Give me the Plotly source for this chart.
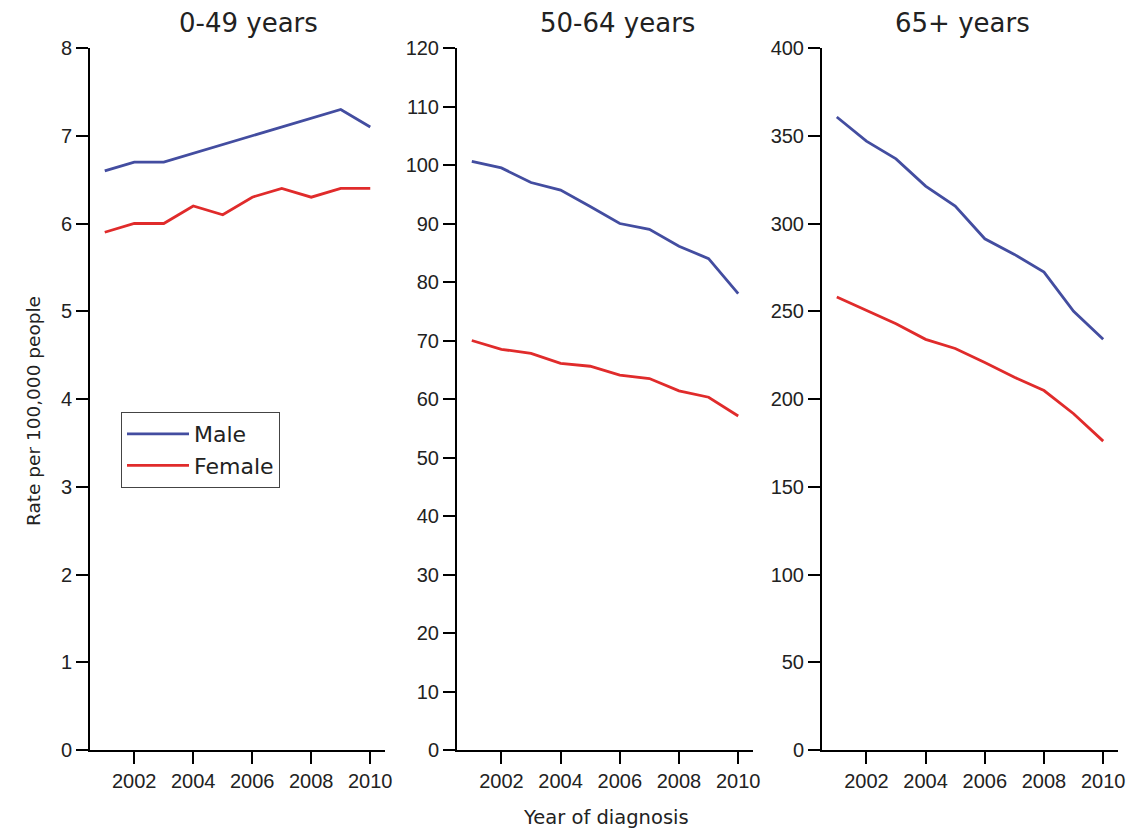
import plotly.graph_objects as go

years = [2001, 2002, 2003, 2004, 2005, 2006, 2007, 2008, 2009, 2010]

panel_titles = ["0-49 years", "50-64 years", "65+ years"]

male_0_49 = [6.6, 6.7, 6.7, 6.8, 6.9, 7.0, 7.1, 7.2, 7.3, 7.1]
female_0_49 = [5.9, 6.0, 6.0, 6.2, 6.1, 6.3, 6.4, 6.3, 6.4, 6.4]

male_50_64 = [100.6, 99.5, 97.0, 95.7, 92.9, 90.0, 89.0, 86.1, 84.0, 78.0]
female_50_64 = [70.0, 68.5, 67.8, 66.1, 65.6, 64.1, 63.5, 61.4, 60.3, 57.1]

male_65 = [360.7, 346.9, 336.8, 321.3, 309.9, 291.3, 282.4, 272.3, 250.0, 234.0]
female_65 = [258.1, 250.6, 242.9, 234.0, 228.8, 220.8, 212.4, 204.8, 191.6, 176.0]

y_ranges = [[0, 8], [0, 120], [0, 400]]
y_dticks = [1, 10, 50]
x_ticks = [2002, 2004, 2006, 2008, 2010]

series_names = ["Male", "Female"]
colors = {"Male": "#434da0", "Female": "#e02b2b"}

panels = [
    (male_0_49, female_0_49),
    (male_50_64, female_50_64),
    (male_65, female_65),
]

# The page body has an 8px margin, so the figure starts 8px in from the
# top-left of the window; size it to fit the visible area exactly.
OFF = 8
W, H = 1140 - OFF, 831 - OFF


def fx(px):
    return (px - OFF) / W


def fy(py):
    return 1 - (py - OFF) / H


x_domains_px = [(90, 385), (457, 753), (822, 1118)]
y_top_px, y_bot_px = 48, 750

ARIAL = "Arial, Liberation Sans, sans-serif"
DEJAVU = "DejaVu Sans, Verdana, sans-serif"

fig = go.Figure()

for i, (m, f) in enumerate(panels):
    xa = "x" if i == 0 else f"x{i+1}"
    ya = "y" if i == 0 else f"y{i+1}"
    for name, vals in zip(series_names, (m, f)):
        fig.add_trace(go.Scatter(
            x=years, y=vals, mode="lines", name=name,
            line=dict(color=colors[name], width=2.8),
            xaxis=xa, yaxis=ya,
            showlegend=(i == 0),
        ))

axis_common = dict(
    showline=True, linecolor="black", linewidth=2,
    ticks="outside", ticklen=12, tickwidth=2, tickcolor="black",
    showgrid=False, zeroline=False, automargin=False,
    tickfont=dict(family=ARIAL, size=20, color="#222"),
)

layout = dict(
    template="none",
    width=W, height=H,
    margin=dict(l=0, r=0, t=0, b=0, autoexpand=False),
    paper_bgcolor="white", plot_bgcolor="white",
    font=dict(family=ARIAL, color="#222"),
    showlegend=True,
    legend=dict(
        x=fx(121), y=fy(412), xanchor="left", yanchor="top",
        bordercolor="#444", borderwidth=1, bgcolor="white",
        font=dict(family=DEJAVU, size=22, color="#222"),
        itemwidth=62, tracegroupgap=0,
    ),
)

for i in range(3):
    xk = "xaxis" if i == 0 else f"xaxis{i+1}"
    yk = "yaxis" if i == 0 else f"yaxis{i+1}"
    x0, x1 = x_domains_px[i]
    layout[xk] = dict(
        axis_common,
        domain=[fx(x0), fx(x1)],
        range=[2000.5, 2010.5],
        tickvals=x_ticks,
        anchor="y" if i == 0 else f"y{i+1}",
    )
    layout[yk] = dict(
        axis_common,
        domain=[fy(y_bot_px), fy(y_top_px)],
        range=y_ranges[i],
        dtick=y_dticks[i],
        tick0=0,
        anchor="x" if i == 0 else f"x{i+1}",
    )

title_pos_px = [(248, 23), (617, 23), (962, 23)]
annotations = []
for t, (px, py) in zip(panel_titles, title_pos_px):
    annotations.append(dict(
        text=t, x=fx(px), y=fy(py), xref="paper", yref="paper",
        xanchor="center", yanchor="middle", showarrow=False,
        font=dict(family=DEJAVU, size=26, color="#222"),
    ))
annotations.append(dict(
    text="Rate per 100,000 people", x=fx(33), y=fy(411),
    xref="paper", yref="paper", xanchor="center", yanchor="middle",
    showarrow=False, textangle=-90,
    font=dict(family=DEJAVU, size=18.5, color="#222"),
))
annotations.append(dict(
    text="Year of diagnosis", x=fx(606), y=fy(817),
    xref="paper", yref="paper", xanchor="center", yanchor="middle",
    showarrow=False, font=dict(family=DEJAVU, size=19.5, color="#222"),
))
layout["annotations"] = annotations

fig.update_layout(**layout)
fig.write_html("out.html")
